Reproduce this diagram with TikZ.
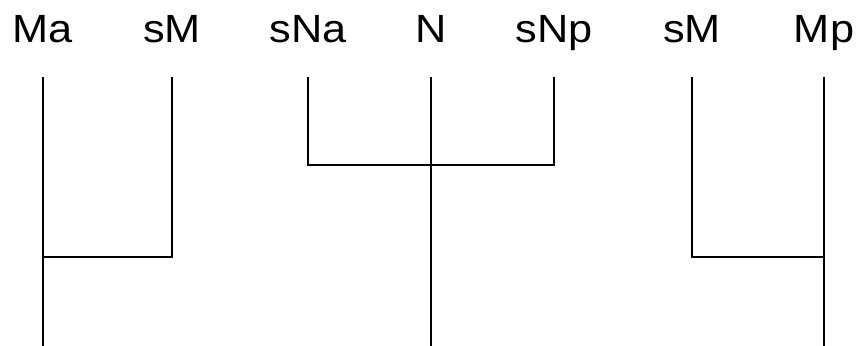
\documentclass[tikz,border=0pt]{standalone}
\usepackage{fontspec}
\setmainfont{Liberation Sans}
\usetikzlibrary{positioning}

\begin{document}
\begin{tikzpicture}[
  x=0.025cm, y=-0.025cm,
  leaf/.style   = {anchor=base, inner sep=0pt, xscale=1.1,
                   font=\fontsize{28}{32}\selectfont},
  branch/.style = {line width=1.4pt, line join=miter},
]
\useasboundingbox (0,0) rectangle (856,346);

% ── Labels ────────────────────────────────────────────────────────────────────
\node[leaf] (ma)  at ( 43,43) {Ma};
\node[leaf] (sm1) at (172,43) {sM};
\node[leaf] (sna) at (308,43) {sNa};
\node[leaf] (n)   at (431,43) {N};
\node[leaf] (snp) at (554,43) {sNp};
\node[leaf] (sm2) at (692,43) {sM};
\node[leaf] (mp)  at (824,43) {Mp};

% ── Line tops, joins and feet ─────────────────────────────────────────────────
\foreach \m/\x in {ma/43, sm1/172, sna/308, n/431, snp/554, sm2/692, mp/824}{
  \coordinate (\m-t) at (\x,77);
}
\coordinate (j1) at ( 43,257);
\coordinate (j2) at (431,165);
\coordinate (j3) at (824,257);
\foreach \m/\x in {ma/43, n/431, mp/824}{
  \coordinate (\m-b) at (\x,346);
}

% ── Branches ──────────────────────────────────────────────────────────────────
\foreach \m in {ma, n, mp}{
  \draw[branch] (\m-t) -- (\m-b);
}
\draw[branch] (sm1-t) |- (j1);
\draw[branch] (sna-t) |- (j2) -| (snp-t);
\draw[branch] (sm2-t) |- (j3);

\end{tikzpicture}
\end{document}
